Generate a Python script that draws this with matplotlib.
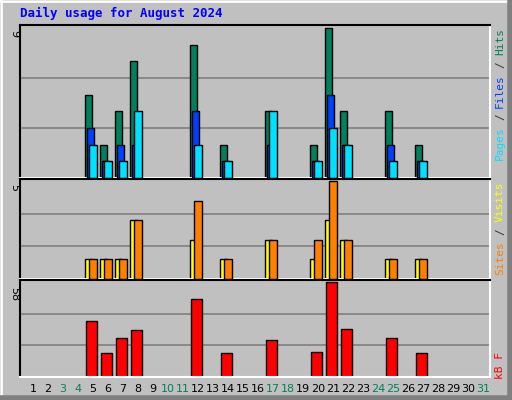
import matplotlib
matplotlib.use("Agg")
import matplotlib.pyplot as plt
from matplotlib.patches import Rectangle

days = list(range(1, 32))
weekend = [3, 4, 10, 11, 17, 18, 24, 25, 31]
bar_days = [5, 6, 7, 8, 12, 14, 17, 20, 21, 22, 25, 27]
hits   = [5, 2, 4, 7, 8, 2, 4, 2, 9, 4, 4, 2]
files  = [3, 1, 2, 2, 4, 1, 2, 1, 5, 2, 2, 1]
pages  = [2, 1, 1, 4, 2, 1, 4, 1, 3, 2, 1, 1]
visits = [1, 1, 1, 3, 2, 1, 2, 1, 3, 2, 1, 1]
sites  = [1, 1, 1, 3, 4, 1, 2, 2, 5, 2, 1, 1]
kbytes = [34.4, 14.5, 24, 28.7, 47.6, 14.5, 22.7, 15.1, 58, 29, 24, 14.5]

W, H = 512, 400
BG = "#C0C0C0"
fig = plt.figure(figsize=(W/100, H/100), dpi=100)
fig.patch.set_facecolor(BG)
mono = "DejaVu Sans Mono"

fa = fig.add_axes([0, 0, 1, 1]); fa.set_xlim(0, W); fa.set_ylim(H, 0); fa.axis("off")
fa.plot([1, W-1], [1, 1], color="white", lw=2)
fa.plot([1, 1], [1, H-1], color="white", lw=2)
fa.plot([W-2, W-2], [0, H], color="#808080", lw=4)
fa.plot([0, W], [H-2, H-2], color="#808080", lw=4)
fa.add_patch(Rectangle((0, 0), W-1, H-1, fill=False, ec="black", lw=1))

def px_axes(x0, y0, x1, y1):
    return fig.add_axes([x0/W, 1-y1/H, (x1-x0)/W, (y1-y0)/H])

xl = (1-13/15, 31+7/15)
def setup(ax, top):
    ax.set_facecolor(BG)
    ax.set_xlim(*xl); ax.set_ylim(0, top*1.02)
    ax.set_xticks([]); ax.set_yticks([])
    for s in ["top", "left"]:
        ax.spines[s].set_color("black")
    for s in ["bottom", "right"]:
        ax.spines[s].set_color("white")
    for sp in ax.spines.values(): sp.set_linewidth(1.5)
    for f in (1/3, 2/3):
        ax.axhline(top*f, color="#808080", lw=1.2, zorder=0)

u = 1/15
ax1 = px_axes(20, 25, 490, 178)
setup(ax1, 9)
ax1.bar([d - 4.2*u for d in bar_days], hits, width=7*u, color="#00805C", ec="black", lw=1, zorder=2)
ax1.bar([d - 2.2*u for d in bar_days], files, width=7*u, color="#0040FF", ec="black", lw=1, zorder=3)
ax1.bar([d for d in bar_days], pages, width=7.4*u, color="#00E0FF", ec="black", lw=1, zorder=4)

ax2 = px_axes(20, 179, 490, 279)
setup(ax2, 5)
ax2.bar([d - 4.2*u for d in bar_days], visits, width=7*u, color="#FFFF00", ec="black", lw=1, zorder=2)
ax2.bar([d for d in bar_days], sites, width=7.4*u, color="#FF8000", ec="black", lw=1, zorder=3)

ax3 = px_axes(20, 280, 490, 377)
setup(ax3, 58)
ax3.bar([d - 1.5*u for d in bar_days], kbytes, width=10.4*u, color="#FF0000", ec="black", lw=1, zorder=2)

fig.text(20/W, 1-13/H, "Daily usage for August 2024", color="#0000FF", fontsize=9,
         fontweight="bold", family=mono, va="center", ha="left")

for d in days:
    x = (33 + (d-1)*15)/W
    fig.text(x, 1-389/H, str(d), color="#00805C" if d in weekend else "black",
             fontsize=8, family="DejaVu Sans", ha="center", va="center")

for y, t in [(30, "9"), (184, "5"), (287, "58")]:
    fig.text(14/W, 1-y/H, t, rotation=-90, fontsize=8, family="DejaVu Sans",
             ha="center", va="top")

CH = 6.6
def rlabel(ytop, parts):
    # parts listed top-to-bottom (text reads bottom-up)
    y = ytop
    for txt, col in parts:
        h = len(txt)*CH
        fig.text(500/W, 1-(y + h/2)/H, txt, rotation=90, color=col, fontsize=8,
                 family=mono, ha="center", va="center")
        y += h + CH

rlabel(28, [("Hits", "#00805C"), ("/", "#303030"), ("Files", "#0040FF"), ("/", "#303030"), ("Pages", "#00E0FF")])
rlabel(182, [("Visits", "#FFFF00"), ("/", "#303030"), ("Sites", "#FF8000")])
rlabel(352, [("kB F", "#FF0000")])

fig.savefig("out.png", dpi=100, facecolor=BG)
